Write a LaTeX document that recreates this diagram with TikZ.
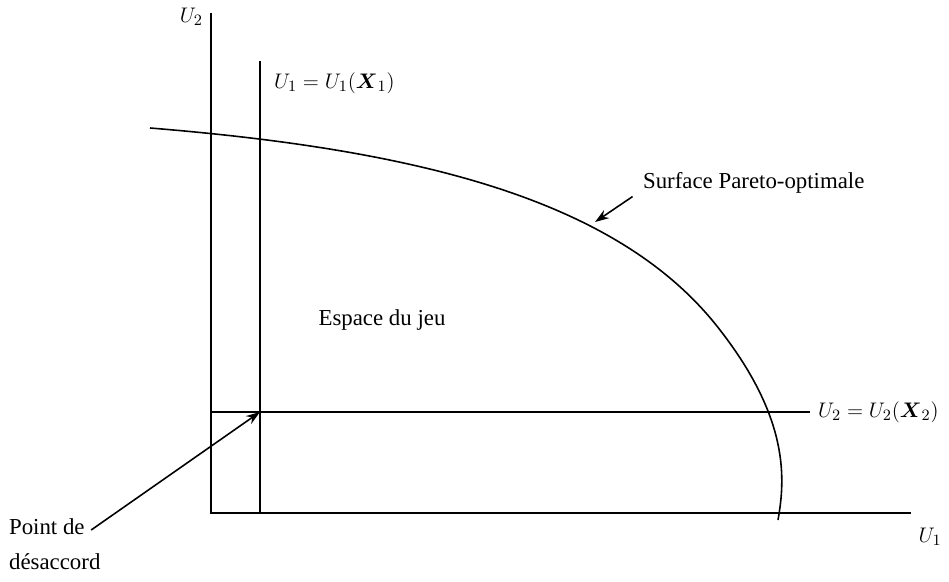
\documentclass[tikz,border=0pt]{standalone}
\usepackage{amsmath,amssymb}
\usepackage{fontspec}
\setmainfont{Liberation Serif}
\usepackage{tikz}
\usetikzlibrary{arrows.meta,positioning}
\tikzset{
  axisline/.style={line width=1.1pt},
  utilline/.style={line width=.9pt},
  thinline/.style={line width=.6pt},
  pareto/.style={line width=.9pt},
  pointer/.style={-{Stealth[length=2.8mm,width=1.9mm]},line width=.9pt,shorten <=1pt},
  lbl/.style={inner sep=1pt,font=\fontsize{13}{15}\selectfont},
}

\begin{document}
\begin{tikzpicture}[x=0.02cm,y=-0.02cm]
			\useasboundingbox (0,0) rectangle (949,581);
			% axes
			\coordinate (o) at (211,513);
			\coordinate (ytop) at (211,13);
			\coordinate (xend) at (911,513);
			\draw[axisline] (ytop)--(o)--(xend);
			\node[lbl,anchor=east] (u2) at (205,17) {$U_2$};
			\node[lbl] (u1) at (930,537) {$U_1$};
			% disagreement lines
			\coordinate (v1top) at (260,61);
			\coordinate (v1bot) at (260,513);
			\coordinate (h2left) at (211,412);
			\coordinate (h2right) at (810,412);
			\draw[utilline] (v1top)--(v1bot);
			\draw[thinline] (h2left)--(h2right);
			\node[lbl,anchor=west] (eq1) at (272,83) {$U_1=U_1(\boldsymbol{X}_1)$};
			\node[lbl,anchor=west] (eq2) at (816,412) {$U_2=U_2(\boldsymbol{X}_2)$};
			\coordinate (dpt) at (260,412);
			% frontier
			\draw[pareto] (150,128) .. controls (420,150) and (620,200) .. (720,330)
			  .. controls (790,420) and (785,480) .. (778,520);
			\coordinate (ptip) at (595,222);
			\node[lbl,anchor=west] (surf) at (641,183) {Surface Pareto-optimale};
			\draw[pointer] (surf.south west)++(-7,0) coordinate (ptail) (ptail)--(ptip);
			\node[lbl] (jeu) at (382,320) {Espace du jeu};
			% disagreement point
			\node[lbl,anchor=west] (pd) at (7,527) {Point de};
			\node[lbl,anchor=west] (desac) at (7,562) {désaccord};
			\draw[pointer] (pd.east)++(3,4) coordinate (dtail) (dtail)--(dpt);
		\end{tikzpicture}
\end{document}
